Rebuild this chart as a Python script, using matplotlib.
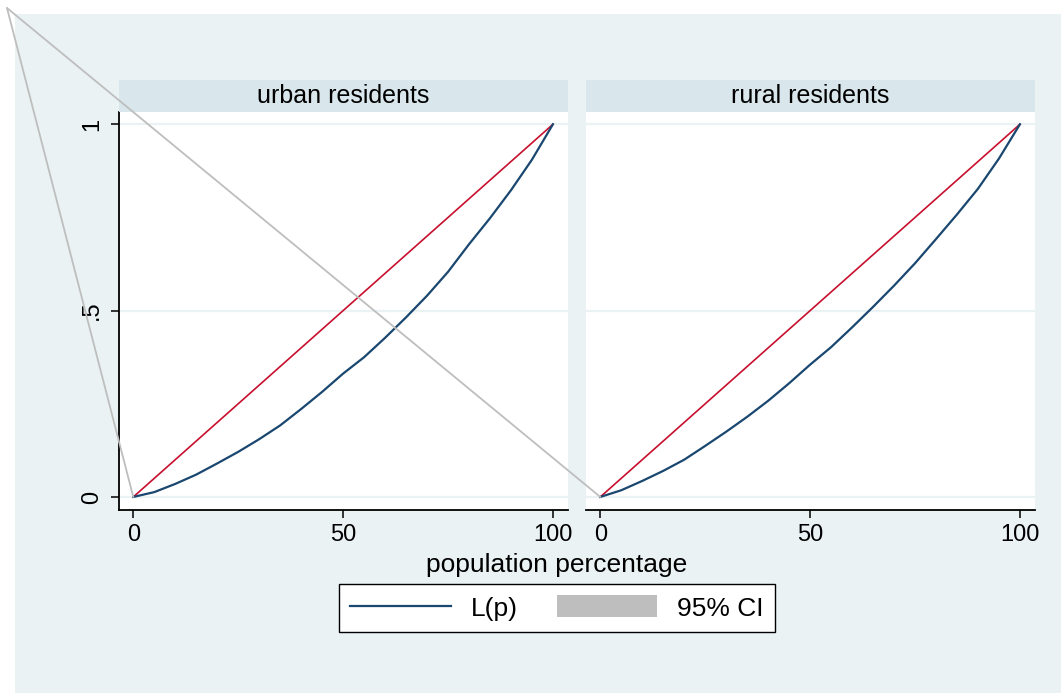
import matplotlib
matplotlib.use("Agg")
import matplotlib.pyplot as plt
from matplotlib.lines import Line2D
from matplotlib.patches import Patch, Rectangle, ConnectionPatch

plt.rcParams['font.family'] = ['Liberation Sans', 'DejaVu Sans']

# population share (%) and Lorenz ordinates
pop_pct = [0, 5, 10, 15, 20, 25, 30, 35, 40, 45, 50,
           55, 60, 65, 70, 75, 80, 85, 90, 95, 100]
urban_lp = [0, 0.013, 0.035, 0.060, 0.090, 0.121, 0.155, 0.192, 0.236, 0.282, 0.331,
            0.375, 0.427, 0.482, 0.540, 0.604, 0.678, 0.748, 0.823, 0.905, 1.0]
rural_lp = [0, 0.018, 0.043, 0.070, 0.100, 0.137, 0.175, 0.215, 0.258, 0.305, 0.355,
            0.402, 0.455, 0.510, 0.567, 0.627, 0.692, 0.758, 0.827, 0.908, 1.0]
equality = [0, 100]
equality_y = [0, 1]

panels = ["urban residents", "rural residents"]
series = [urban_lp, rural_lp]
xticks = [0, 50, 100]
yticks = [0, 0.5, 1]
yticklabels = ["0", ".5", "1"]

W, H = 1061, 693
BG = "#EAF2F3"
STRIP = "#D9E6EB"
NAVY = "#1A476F"
RED = "#C8102E"
GREY = "#BEBEBE"

fig = plt.figure(figsize=(W / 100, H / 100), dpi=100)
fig.patch.set_facecolor("white")
fig.add_artist(Rectangle((15 / W, 0), 1 - 15 / W, 1 - 14 / H,
                         transform=fig.transFigure, facecolor=BG,
                         edgecolor="none", zorder=-10))

lefts = [118.6, 585.6]
axes = []
for i, (name, lp) in enumerate(zip(panels, series)):
    ax = fig.add_axes([lefts[i] / W, (H - 510) / H, 449 / W, 398 / H])
    ax.set_facecolor("white")
    ax.set_xlim(-3.5, 103.5)
    ax.set_ylim(-0.035, 1.033)
    for yv in yticks:
        ax.axhline(yv, color=BG, lw=1.6, zorder=0)
    ax.plot(equality, equality_y, color=RED, lw=1.2, zorder=3)
    ax.plot(pop_pct, lp, color=NAVY, lw=1.6, zorder=4)
    for s in ["top", "right"]:
        ax.spines[s].set_visible(False)
    ax.spines["bottom"].set_linewidth(1.3)
    ax.spines["left"].set_linewidth(1.3)
    ax.set_xticks(xticks)
    ax.set_xticklabels([str(v) for v in xticks])
    ax.tick_params(axis="x", length=6, width=1.1, pad=4, labelsize=17)
    if i == 0:
        ax.set_yticks(yticks)
        ax.set_yticklabels(yticklabels, rotation=90, va="center")
        ax.tick_params(axis="y", length=6, width=1.1, pad=5, labelsize=17)
    else:
        ax.spines["left"].set_visible(False)
        ax.set_yticks([])
    # header strip
    sx = fig.add_axes([lefts[i] / W, (H - 112) / H, 449 / W, 32 / H])
    sx.set_facecolor(STRIP)
    sx.set_xticks([])
    sx.set_yticks([])
    for s in sx.spines.values():
        s.set_visible(False)
    sx.text(0.5, 0.5, name, ha="center", va="center", fontsize=18,
            transform=sx.transAxes)
    axes.append(ax)

# stray CI outline segments from the corner to each origin
for ax in axes:
    cp = ConnectionPatch(xyA=(7 / W, 1 - 8 / H), coordsA=fig.transFigure,
                         xyB=(0, 0), coordsB=ax.transData,
                         color=GREY, lw=1.3, zorder=20)
    fig.add_artist(cp)

fig.text(557 / W, 1 - 565 / H, "population percentage", ha="center",
         va="center", fontsize=19)

handles = [Line2D([0], [0], color=NAVY, lw=1.6),
           Patch(facecolor=GREY, edgecolor="none")]
leg = fig.legend(handles, ["L(p)", "95% CI"], loc="center",
                 bbox_to_anchor=(557 / W, 1 - 608 / H), ncol=2,
                 fontsize=19, frameon=True, fancybox=False, framealpha=1,
                 handlelength=3.8, handleheight=0.9, handletextpad=0.75,
                 columnspacing=1.5, borderpad=0.45, borderaxespad=0)
leg.get_frame().set_edgecolor("black")
leg.get_frame().set_facecolor("white")
leg.get_frame().set_linewidth(1.0)

fig.savefig("out.png", dpi=100, facecolor=fig.get_facecolor())
